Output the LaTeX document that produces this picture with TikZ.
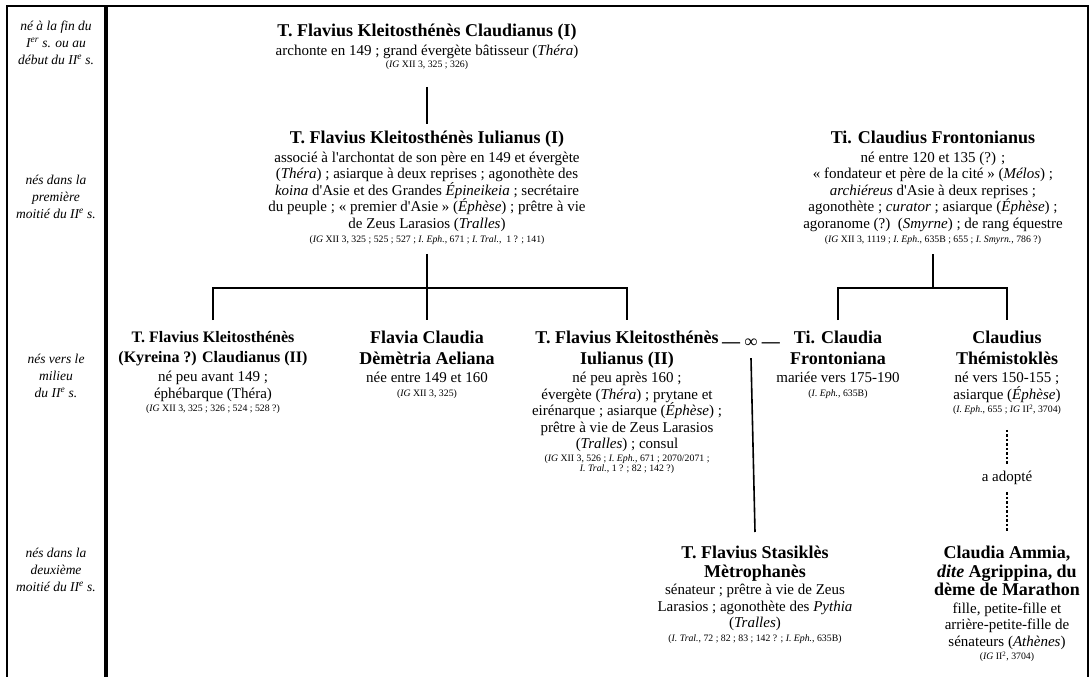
\documentclass[tikz,border=0pt]{standalone}
\usepackage{fontspec}
\setmainfont{Liberation Serif}
\usepackage{tikz}

\newcommand{\nomfont}{\fontsize{18}{19}\selectfont\bfseries}
\newcommand{\txtfont}{\fontsize{15}{16.5}\selectfont\mdseries}
\newcommand{\reffont}{\fontsize{9.8}{11}\selectfont\mdseries}
\newcommand{\apo}{\textquotesingle}

\tikzset{
    pers/.style={anchor=north, align=center, inner sep=0pt, font=\txtfont},
    lien/.style={line width=1.6pt},
    adop/.style={line width=1.6pt, dash pattern=on 2.5pt off 2pt},
    epoque/.style={align=center, inner sep=0pt, font=\fontsize{13.5}{17}\selectfont\itshape}
}

\begin{document}
\begin{tikzpicture}[x=1pt, y=-1pt]
    \useasboundingbox (0,0) rectangle (1090,677);

    % cadre et colonne des epoques
    \draw[line width=2pt] (7,677) -- (7,6) -- (1088,6) -- (1088,677);
    \draw[line width=3.5pt] (106,6) -- (106,677);

    \node[epoque] (ep1) at (56,43) {né à la fin du\\ I\textsuperscript{er} s. ou au\\ début du II\textsuperscript{e} s.};
    \node[epoque] (ep2) at (56,197) {nés dans la\\ première\\ moitié du II\textsuperscript{e} s.};
    \node[epoque] (ep3) at (56,376) {nés vers le\\ milieu\\ du II\textsuperscript{e} s.};
    \node[epoque] (ep4) at (56,570) {nés dans la\\ deuxième\\ moitié du II\textsuperscript{e} s.};

    % generation 1
    \node[pers] (A) at (427,24) {\nomfont T. Flavius Kleitosthénès Claudianus (I)\\[2pt]
        archonte en 149 ; grand évergète bâtisseur (\textit{Théra})\\[-4pt]
        \reffont (\textit{IG} XII 3, 325 ; 326)};

    % generation 2
    \node[pers] (B) at (427,131) {\nomfont T. Flavius Kleitosthénès Iulianus (I)\\[2pt]
        associé à l\apo archontat de son père en 149 et évergète\\
        (\textit{Théra}) ; asiarque à deux reprises ; agonothète des\\
        \textit{koina} d\apo Asie et des Grandes \textit{Épineikeia} ; secrétaire\\
        du peuple ; « premier d\apo Asie » (\textit{Éphèse}) ; prêtre à vie\\
        de Zeus Larasios (\textit{Tralles})\\[-2pt]
        \reffont (\textit{IG} XII 3, 325 ; 525 ; 527 ; \textit{I. Eph.}, 671 ; \textit{I. Tral.},~~1 ? ; 141)};
    \node[pers] (E) at (933,131) {\nomfont Ti. Claudius Frontonianus\\[2pt]
        né entre 120 et 135 (?) ;\\
        « fondateur et père de la cité » (\textit{Mélos}) ;\\
        \textit{archiéreus} d\apo Asie à deux reprises ;\\
        agonothète ; \textit{curator} ; asiarque (\textit{Éphèse}) ;\\
        agoranome (?)~~(\textit{Smyrne}) ; de rang équestre\\[-2pt]
        \reffont (\textit{IG} XII 3, 1119 ; \textit{I. Eph.}, 635B ; 655 ; \textit{I. Smyrn.}, 786 ?)};

    % generation 3
    \node[pers] (C1) at (213,331) {\fontsize{16}{19}\selectfont\bfseries T. Flavius Kleitosthénès\\[3.5pt]
        \fontsize{16}{19}\selectfont\bfseries (Kyreina ?) Claudianus (II)\\[3pt]
        né peu avant 149 ;\\ éphébarque (Théra)\\[-3pt]
        \reffont (\textit{IG} XII 3, 325 ; 326 ; 524 ; 528 ?)};
    \node[pers] (C2) at (427,331) {\nomfont Flavia Claudia\\[4pt] \nomfont Dèmètria Aeliana\\[2pt]
        née entre 149 et 160\\[-3pt]
        \reffont (\textit{IG} XII 3, 325)};
    \node[pers] (C3) at (627,331) {\nomfont T. Flavius Kleitosthénès\\[4pt] \nomfont Iulianus (II)\\[2pt]
        né peu après 160 ;\\ évergète (\textit{Théra}) ; prytane et\\
        eirénarque ; asiarque (\textit{Éphèse}) ;\\ prêtre à vie de Zeus Larasios\\
        (\textit{Tralles}) ; consul\\[-4pt]
        \reffont (\textit{IG} XII 3, 526 ; \textit{I. Eph.}, 671 ; 2070/2071 ;\\[-6pt]
        \reffont \textit{I. Tral.}, 1 ? ; 82 ; 142 ?)};
    \node[anchor=base, inner sep=0pt, font=\nomfont] (mar) at (751,347) {— ∞ —};
    \node[pers] (C4) at (838,331) {\nomfont Ti. Claudia\\[4pt] \nomfont Frontoniana\\[2pt]
        mariée vers 175-190\\[-3pt]
        \reffont (\textit{I. Eph.}, 635B)};
    \node[pers] (C5) at (1007,331) {\nomfont Claudius\\[4pt] \nomfont Thémistoklès\\[2pt]
        né vers 150-155 ;\\ asiarque (\textit{Éphèse})\\[-3pt]
        \reffont (\textit{I. Eph.}, 655 ; \textit{IG} II\textsuperscript{2}, 3704)};
    \node[inner sep=0pt, font=\txtfont] (adopt) at (1007,478) {a adopté};

    % generation 4
    \node[pers] (D1) at (755,546) {\nomfont T. Flavius Stasiklès\\[2pt] \nomfont Mètrophanès\\[1pt]
        sénateur ; prêtre à vie de Zeus\\ Larasios ; agonothète des \textit{Pythia}\\
        (\textit{Tralles})\\[-3pt]
        \reffont (\textit{I. Tral.}, 72 ; 82 ; 83 ; 142 ? ; \textit{I. Eph.}, 635B)};
    \node[pers] (D2) at (1007,546) {\nomfont Claudia Ammia,\\[2pt] \nomfont \textit{dite} Agrippina, du\\[2pt] \nomfont dème de Marathon\\[1pt]
        fille, petite-fille et\\ arrière-petite-fille de\\ sénateurs (\textit{Athènes})\\[-3pt]
        \reffont (\textit{IG} II\textsuperscript{2}, 3704)};

    % filiations
    \coordinate (fB) at (427,288);
    \coordinate (fE) at (933,288);
    \draw[lien] ([yshift=-17pt]A.south) -- ([yshift=7pt]B.north);
    \draw[lien] ([yshift=-9pt]B.south) -- (fB);
    \draw[lien] ([yshift=11pt]C1.north) |- (C3.north |- fB) -- ([yshift=11pt]C3.north);
    \draw[lien] (C2.north |- fB) -- ([yshift=11pt]C2.north);
    \draw[lien] ([yshift=-9pt]E.south) -- (fE);
    \draw[lien] ([yshift=11pt]C4.north) |- (C5.north |- fE) -- ([yshift=11pt]C5.north);
    \draw[lien] ([yshift=-11pt]mar.south) -- ([yshift=14pt]D1.north);
    \draw[adop] ([yshift=-15pt]C5.south) -- ([yshift=7pt]adopt.north);
    \draw[adop] ([yshift=-7pt]adopt.south) -- ([yshift=14pt]D2.north);
\end{tikzpicture}
\end{document}
